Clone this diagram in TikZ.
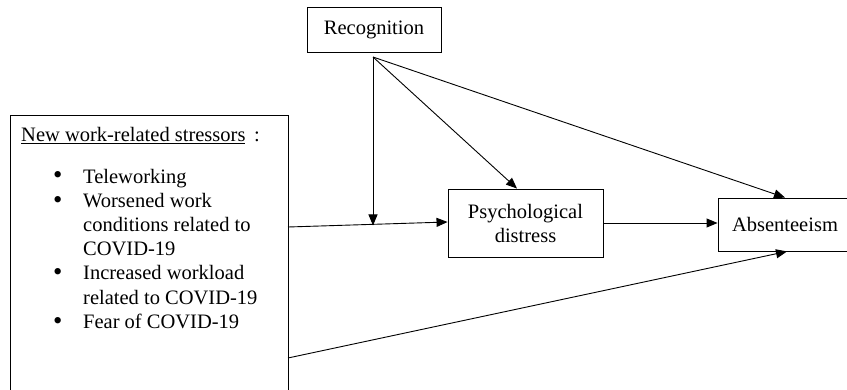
\documentclass[tikz,border=0pt]{standalone}
\usepackage{fontspec}
\setmainfont{Liberation Serif}
\usetikzlibrary{arrows.meta,calc}
\newcommand{\bigbul}{\raisebox{-0.8pt}{\scalebox{1.3}{\textbullet}}}
\begin{document}
\begin{tikzpicture}[x=1pt,y=-1pt,
  box/.style={draw, line width=0.9pt, inner sep=0pt, align=center,
    font=\fontsize{20.5}{25}\selectfont},
  arr/.style={line width=0.9pt, -{Triangle[length=11pt,width=9pt]}},
  txt/.style={inner sep=0pt, font=\fontsize{20.5}{24.2}\selectfont}]
\useasboundingbox (0,0) rectangle (847,390);
% boxes
\node[box, minimum width=134pt, minimum height=45pt] (rec) at (374,29.5) {Recognition};
\node[box, minimum width=278pt, minimum height=280pt] (left) at (149,255) {};
\node[box, minimum width=155pt, minimum height=68pt] (psych) at (525.5,223) {Psychological\\[-1pt]distress};
\node[box, minimum width=134pt, minimum height=53pt] (abs) at (785,224.5) {Absenteeism};
% left box text
\node[txt, anchor=base west] (head) at (21,142) {\underline{New work-related stressors}\, :};
\node[txt, anchor=north west] (list) at (53,166) {%
  \renewcommand{\arraystretch}{1}%
  \begin{tabular}{@{}p{30pt}@{}l@{}}
  \bigbul & Teleworking\\
  \bigbul & Worsened work\\
   & conditions related to\\
   & COVID-19\\
  \bigbul & Increased workload\\
   & related to COVID-19\\
  \bigbul & Fear of COVID-19
  \end{tabular}};
% coordinates
\coordinate (rs) at (373,57);
\coordinate (l1) at (288,227);
\coordinate (l2) at (288,358);
\coordinate (m) at (373,225.5);
% connectors
\draw[arr] (rs) -- (m);
\draw[arr] (rs) -- ([xshift=-8.5pt]psych.north);
\draw[arr] (rs) -- (abs.north);
\draw[arr] (l1) -- ([yshift=1pt]psych.west);
\draw[arr] (psych.east) -- (psych.east -| abs.west);
\draw[arr] (l2) -- ([xshift=2pt]abs.south);
\end{tikzpicture}
\end{document}
